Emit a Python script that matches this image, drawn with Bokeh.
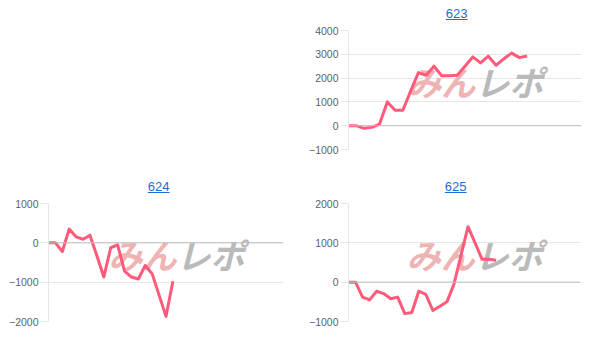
from bokeh.plotting import figure
from bokeh.models import Range1d, Label, Span, FixedTicker, Spacer, Div
from bokeh.layouts import row, column
from bokeh.embed import file_html
from bokeh.resources import INLINE

# ---- data ----
title_623 = "623"
values_623 = [0, 0, -110, -70, 70, 1000, 650, 650, 1450, 2230, 2120, 2500,
              2100, 2100, 2120, 2500, 2890, 2640, 2920, 2540, 2810, 3050, 2860, 2930]
n_cats_623 = 31
yticks_623 = [-1000, 0, 1000, 2000, 3000, 4000]

title_624 = "624"
values_624 = [0, 0, -220, 350, 150, 90, 195, -330, -870, -125, -50, -720,
              -870, -920, -575, -790, -1330, -1870, -975]
n_cats_624 = 35
yticks_624 = [-2000, -1000, 0, 1000]

title_625 = "625"
values_625 = [0, 0, -380, -450, -230, -290, -420, -380, -800, -770, -230, -310,
              -720, -610, -500, -50, 680, 1410, 1000, 580, 580, 560]
n_cats_625 = 34
yticks_625 = [-1000, 0, 1000, 2000]

LINE_COLOR = "#ff5a7a"
GRID = "#e6e6e6"
W, H = 306, 171
HEAD = 22  # height of the title strip


def make_chart(title, values, n_cats, yticks, L, R, T, B):
    ph = H - HEAD
    tp = T - HEAD
    p = figure(width=W, height=ph, output_backend="svg", toolbar_location=None,
               x_range=Range1d(0, n_cats - 1), y_range=Range1d(yticks[0], yticks[-1]),
               min_border_left=L, min_border_right=R, min_border_top=tp, min_border_bottom=B,
               margin=0)
    p.outline_line_color = None
    p.background_fill_color = "white"
    p.border_fill_color = "white"
    p.xaxis.visible = False
    p.xgrid.visible = False
    p.ygrid.ticker = FixedTicker(ticks=yticks)
    p.ygrid.grid_line_color = GRID
    p.ygrid.grid_line_width = 1
    p.yaxis.ticker = FixedTicker(ticks=yticks)
    p.yaxis.axis_line_color = GRID
    p.yaxis.major_tick_line_color = GRID
    p.yaxis.major_tick_out = 8
    p.yaxis.major_tick_in = 0
    p.yaxis.minor_tick_line_color = None
    p.yaxis.major_label_standoff = 2
    p.yaxis.major_label_text_font = "Liberation Sans"
    p.yaxis.major_label_text_font_size = "10.5px"
    p.yaxis.major_label_text_color = "#5f5f5f"

    fw = W - L - R
    fh = ph - tp - B
    x0, x1 = 0, n_cats - 1
    y0, y1 = yticks[0], yticks[-1]

    def xd(px):  # px from frame left -> data
        return x0 + px / fw * (x1 - x0)

    def yd(px):  # px from frame top -> data
        return y1 - px / fh * (y1 - y0)

    p.add_layout(Span(location=0, dimension="width", line_color="#bfbfbf", line_width=1))

    # watermark
    cx = 0.54 * fw
    cy = (1 - 0.57) * fh
    p.add_layout(Label(x=xd(cx + 1), y=yd(cy), text="みん", text_align="right",
                       text_baseline="middle", text_font="Noto Sans CJK JP",
                       text_font_style="bold italic", text_font_size="34px",
                       text_color="#eeb4b4", level="underlay"))
    p.add_layout(Label(x=xd(cx + 1), y=yd(cy), text="レポ", text_align="left",
                       text_baseline="middle", text_font="Noto Sans CJK JP",
                       text_font_style="bold italic", text_font_size="34px",
                       text_color="#bababa", level="underlay"))

    xs = list(range(len(values)))
    p.line(xs, values, line_width=3, line_color=LINE_COLOR, line_join="round")

    # title strip: underlined link-style text
    tcx = L + 110.7
    top = (T - 12) - 12
    html = (
        '<div style="position:relative;width:%dpx;height:%dpx;">'
        '<a style="position:absolute;left:%.1fpx;top:%.1fpx;width:40px;margin-left:-20px;'
        'text-align:center;font-family:\'Liberation Sans\';font-size:13px;line-height:15px;'
        'color:#1a6fd6;text-decoration:underline;">%s</a></div>'
        % (W, HEAD, tcx, top, title)
    )
    d = Div(text=html, width=W, height=HEAD, margin=0)
    return column(d, p, spacing=0)


p623 = make_chart(title_623, values_623, n_cats_623, yticks_623, 40, 31, 30, 22)
p624 = make_chart(title_624, values_624, n_cats_624, yticks_624, 48, 23, 32, 21)
p625 = make_chart(title_625, values_625, n_cats_625, yticks_625, 39, 32, 32, 21)

layout = column(row(Spacer(width=W, height=H, margin=0), p623, spacing=0),
                row(p624, p625, spacing=0), spacing=0)

open("out.html", "w").write(file_html(layout, INLINE))
